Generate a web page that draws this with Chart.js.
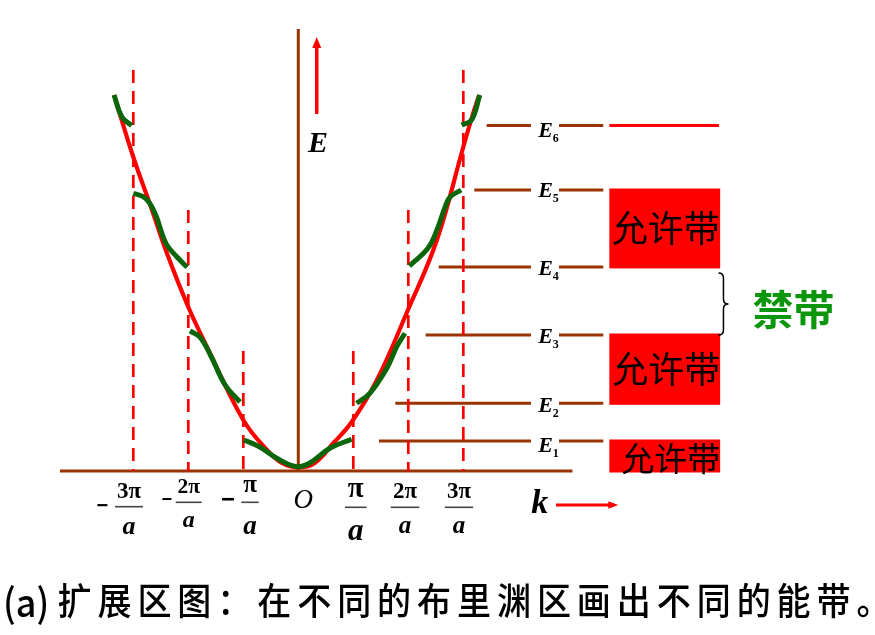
<!DOCTYPE html>
<html>
<head>
<meta charset="utf-8">
<script src="https://cdn.jsdelivr.net/npm/chart.js"></script>
<style>
html,body{margin:0;padding:0;background:#fff;}
#wrap{width:875px;height:635px;position:relative;}
canvas{display:block;}
</style>
</head>
<body>
<div id="wrap"><canvas id="c" width="875" height="635"></canvas></div>
<script>
// ---------------- DATA (k in units of π/a, E in arbitrary units) ----------------
// free-electron curve (red)
const freeK = [-3.35,-3.0,-2.66,-2.39,-2.0,-1.66,-1.0,-0.57,-0.3,0,0.3,0.64,0.97,1.43,1.97,2.52,3.0,3.18,3.29];
const freeE = [37.6,31.4,26.1,21.8,16.4,12.4,5.1,2.1,0.8,0.35,0.8,2.8,4.9,9.1,15.8,23.1,32.4,35.8,37.6];
// nearly-free-electron bands (green), one piece per Brillouin zone part
const zone1K  = [-0.99,-0.70,-0.39,-0.03,0.21,0.58,0.97];
const zone1E  = [3.1,2.4,1.27,0.43,0.8,2.3,3.17];
const zone2LK = [-1.97,-1.79,-1.58,-1.33,-1.06];
const zone2LE = [14.0,13.4,11.4,8.6,6.9];
const zone2RK = [1.06,1.30,1.61,1.79,1.94];
const zone2RE = [6.77,7.77,10.27,12.43,13.77];
const zone3LK = [-3.0,-2.82,-2.70,-2.58,-2.48,-2.39,-2.21,-2.02];
const zone3LE = [27.77,27.43,26.77,25.43,23.77,22.6,21.43,20.37];
const zone3RK = [2.02,2.36,2.52,2.67,2.76,2.96];
const zone3RE = [20.5,22.3,24.1,26.4,27.4,28.1];
const zone4LK = [-3.35,-3.21,-3.03];
const zone4LE = [37.6,35.43,34.53];
const zone4RK = [2.97,3.15,3.30];
const zone4RE = [34.6,35.1,37.6];
// zone boundaries and their tick labels
const boundaryK    = [-3,-2,-1,1,2,3];
const boundaryTopE = [40.1,26.1,12.0,12.0,26.1,40.1];
const tickSign = ["−","−","−","","",""];
const tickNum  = ["3π","2π","π","π","2π","3π"];
const tickDen  = ["a","a","a","a","a","a"];
// energy levels
const levelNames  = ["1","2","3","4","5","6"];
const levelE      = [3.0,6.77,13.6,20.41,28.1,34.55];
const levelStartK = [1.467,1.764,2.316,2.553,3.2,3.425];
// allowed bands (lower, upper) and forbidden gap
const bandLow  = [0, 6.77, 20.41];
const bandHigh = [3.0, 13.6, 28.1];
const bandText = ["允许带","允许带","允许带"];
const gapText  = "禁带";
const caption  = "(a)扩展区图：在不同的布里渊区画出不同的能带。";

// ---------------- layout constants (chart units) ----------------
const axisKMin = -4.333, axisKMax = 4.985, axisETop = 44.2;
const levelSeg1End = 4.23, levelSeg2Start = 4.74, levelSeg2End = 5.545;
const boxKMin = 5.655, boxKMax = 7.67;

const BROWN = '#993300', RED = '#ff0000', GREEN = '#0b660b';
const pts = (ks, es) => ks.map((k, i) => ({x: k, y: es[i]}));
const seg = (k0, k1, e0, e1) => [{x:k0, y:e0}, {x:k1, y:e1}];

const datasets = [];
function addLine(data, color, width, order, extra) {
  datasets.push(Object.assign({
    data, showLine: true, borderColor: color, backgroundColor: color,
    borderWidth: width, pointRadius: 0, fill: false, order, tension: 0
  }, extra || {}));
}
// axes
addLine(seg(axisKMin, axisKMax, 0, 0), BROWN, 3, 10);
addLine(seg(0, 0, 0, axisETop), BROWN, 3, 10);
// energy levels
levelE.forEach((e, i) => {
  addLine(seg(levelStartK[i], levelSeg1End, e, e), BROWN, 3, 9);
  addLine(seg(levelSeg2Start, levelSeg2End, e, e), BROWN, 3, 9);
});
addLine(seg(boxKMin, boxKMax - 0.02, levelE[5], levelE[5]), RED, 3, 9);
// free electron curve
addLine(pts(freeK, freeE), RED, 4.2, 8, {tension: 0.4});
// zone boundaries
boundaryK.forEach((k, i) => {
  addLine(seg(k, k, boundaryTopE[i], 0), RED, 2.7, 7, {borderDash: [13, 8]});
});
// green bands
[[zone1K,zone1E],[zone2LK,zone2LE],[zone2RK,zone2RE],[zone3LK,zone3LE],
 [zone3RK,zone3RE],[zone4LK,zone4LE],[zone4RK,zone4RE]].forEach(p => {
  addLine(pts(p[0], p[1]), GREEN, 5, 5, {tension: 0.4});
});

// ---------------- style for hand-placed labels (pixels, relative) ----------------
const tickStyle = [
  {dx:-4.3, numDy:27.3, barDy:35.7, denDy:63.3, barW:28, numSize:23, denSize:26, signDx:-26.7, signDy:35.7, signSize:20},
  {dx:0.4,  numDy:22.3, barDy:31.3, denDy:55.7, barW:26, numSize:21.5, denSize:24, signDx:-22,   signDy:29,   signSize:18},
  {dx:6.7,  numDy:20.7, barDy:31.3, denDy:63.3, barW:17.5, numSize:25, denSize:27, signDx:-22,   signDy:29,   signSize:24},
  {dx:2.5,  numDy:25.7, barDy:36.3, denDy:69,   barW:21.7, numSize:29, denSize:31},
  {dx:-3.3, numDy:27.3, barDy:36.3, denDy:62.3, barW:28.6, numSize:23, denSize:25},
  {dx:-4.3, numDy:27.3, barDy:36.3, denDy:62.3, barW:28.3, numSize:23, denSize:25}
];
const levelLabelDy = [10.7, 8.4, 8.3, 8.1, 6.7, 11.2];
const bandTextStyle = [{dx:6, dy:2.5, size:33}, {dx:1.5, dy:0, size:36}, {dx:1, dy:0, size:36}];
const SERIF = '"Liberation Serif","DejaVu Serif",serif';
const SANS = '"Liberation Sans","DejaVu Sans",sans-serif';
const CJK = '"Noto Sans CJK SC","Noto Sans CJK JP",sans-serif';

function arrow(ctx, x0, y0, x1, y1, color, w, headLen, headHalf) {
  const ang = Math.atan2(y1 - y0, x1 - x0);
  const bx = x1 - headLen * Math.cos(ang), by = y1 - headLen * Math.sin(ang);
  ctx.save();
  ctx.strokeStyle = color; ctx.fillStyle = color; ctx.lineWidth = w;
  ctx.beginPath(); ctx.moveTo(x0, y0); ctx.lineTo(bx + Math.cos(ang), by + Math.sin(ang)); ctx.stroke();
  ctx.beginPath();
  ctx.moveTo(x1, y1);
  ctx.lineTo(bx - headHalf * Math.sin(ang), by + headHalf * Math.cos(ang));
  ctx.lineTo(bx + headHalf * Math.sin(ang), by - headHalf * Math.cos(ang));
  ctx.closePath(); ctx.fill();
  ctx.restore();
}

const deco = {
  id: 'deco',
  beforeDatasetsDraw(chart) {
    const ctx = chart.ctx, px = v => chart.scales.x.getPixelForValue(v), py = v => chart.scales.y.getPixelForValue(v);
    ctx.save();
    ctx.fillStyle = RED;
    bandLow.forEach((lo, i) => {
      const top = py(bandHigh[i]) - 1.5, bot = py(lo) + 1.5;
      ctx.fillRect(px(boxKMin), top, px(boxKMax) - px(boxKMin), bot - top);
    });
    ctx.restore();
  },
  afterDatasetsDraw(chart) {
    const ctx = chart.ctx, px = v => chart.scales.x.getPixelForValue(v), py = v => chart.scales.y.getPixelForValue(v);
    ctx.save();
    ctx.fillStyle = '#000';
    const y0 = py(0);
    // tick labels (fractions)
    boundaryK.forEach((k, i) => {
      const st = tickStyle[i];
      const cx = px(k) + st.dx;
      ctx.textAlign = 'center'; ctx.textBaseline = 'alphabetic';
      ctx.font = `bold ${st.numSize}px ${SERIF}`;
      ctx.fillText(tickNum[i], cx, y0 + st.numDy);
      ctx.font = `bold italic ${st.denSize}px ${SERIF}`;
      ctx.fillText(tickDen[i], cx, y0 + st.denDy);
      ctx.strokeStyle = '#444'; ctx.lineWidth = 1.6;
      ctx.beginPath(); ctx.moveTo(cx - st.barW / 2, y0 + st.barDy); ctx.lineTo(cx + st.barW / 2, y0 + st.barDy); ctx.stroke();
      if (tickSign[i]) {
        ctx.font = `bold ${st.signSize}px ${SANS}`;
        ctx.textBaseline = 'middle';
        ctx.fillText(tickSign[i], cx + st.signDx, y0 + st.signDy);
      }
    });
    // origin, axis names
    ctx.textAlign = 'center'; ctx.textBaseline = 'alphabetic';
    ctx.font = `italic 27px ${SERIF}`;
    ctx.fillText('O', px(0.09), y0 + 36.7);
    ctx.font = `bold italic 30px ${SERIF}`;
    ctx.fillText('E', px(0.358), py(31.93));
    ctx.font = `bold italic 34px ${SERIF}`;
    ctx.fillText('k', px(4.39), py(-4.23));
    // arrows
    arrow(ctx, px(0.335), py(35.7), px(0.335), py(43.4), RED, 3.5, 11, 4.5);
    arrow(ctx, px(4.685), py(-3.4), px(5.818), py(-3.4), RED, 3, 10, 3.8);
    // level labels
    levelE.forEach((e, i) => {
      const base = py(e) + levelLabelDy[i];
      const x = px(4.364);
      ctx.textAlign = 'left'; ctx.textBaseline = 'alphabetic';
      ctx.font = `bold italic 22px ${SERIF}`;
      ctx.fillText('E', x, base);
      ctx.font = `bold 12px ${SERIF}`;
      ctx.fillText(levelNames[i], x + 14.4, base + 5);
    });
    // band texts
    bandLow.forEach((lo, i) => {
      const s = bandTextStyle[i];
      const cx = (px(boxKMin) + px(boxKMax)) / 2 + s.dx;
      const cy = (py(lo) + py(bandHigh[i])) / 2 + s.dy;
      ctx.font = `${s.size}px ${CJK}`;
      ctx.textAlign = 'center'; ctx.textBaseline = 'middle';
      ctx.fillStyle = '#000';
      ctx.fillText(bandText[i], cx, cy);
    });
    // brace for forbidden gap
    const bx0 = px(boxKMax) - 1.7, bx1 = bx0 + 5, bx2 = bx0 + 10;
    const byT = py(levelE[3]) + 6, byB = py(levelE[2]), byM = (byT + byB) / 2;
    ctx.strokeStyle = '#000'; ctx.lineWidth = 1.5;
    ctx.beginPath();
    ctx.moveTo(bx0, byT);
    ctx.quadraticCurveTo(bx1, byT, bx1, byT + 5);
    ctx.lineTo(bx1, byM - 5);
    ctx.quadraticCurveTo(bx1, byM, bx2, byM);
    ctx.quadraticCurveTo(bx1, byM, bx1, byM + 5);
    ctx.lineTo(bx1, byB - 5);
    ctx.quadraticCurveTo(bx1, byB, bx0, byB);
    ctx.stroke();
    ctx.fillStyle = '#0c960c';
    ctx.font = `bold 41px ${CJK}`;
    ctx.textAlign = 'center'; ctx.textBaseline = 'middle';
    ctx.fillText(gapText, bx2 + 65, byM + 5);
    // caption
    ctx.fillStyle = '#000';
    ctx.textBaseline = 'middle'; ctx.textAlign = 'left';
    const sx = 0.92;
    ctx.save();
    ctx.scale(sx, 1);
    ctx.font = `500 39px ${CJK}`;
    const head = caption.slice(0, 3), rest = Array.from(caption.slice(3));
    ctx.fillText(head, 3 / sx, 602);
    ctx.font = `500 37px ${CJK}`;
    rest.forEach((ch, i) => {
      ctx.fillText(ch, (57.5 + i * 39.95) / sx, 601);
    });
    ctx.restore();
    ctx.restore();
  }
};

new Chart(document.getElementById('c'), {
  type: 'scatter',
  data: {datasets},
  options: {
    responsive: false,
    animation: false,
    events: [],
    layout: {padding: {left: 23.3, right: 26.7, top: 21, bottom: 14}},
    scales: {
      x: {type: 'linear', min: -5, max: 10, display: false},
      y: {type: 'linear', min: -15, max: 45, display: false}
    },
    plugins: {legend: {display: false}, tooltip: {enabled: false}}
  },
  plugins: [deco]
});
</script>
</body>
</html>
